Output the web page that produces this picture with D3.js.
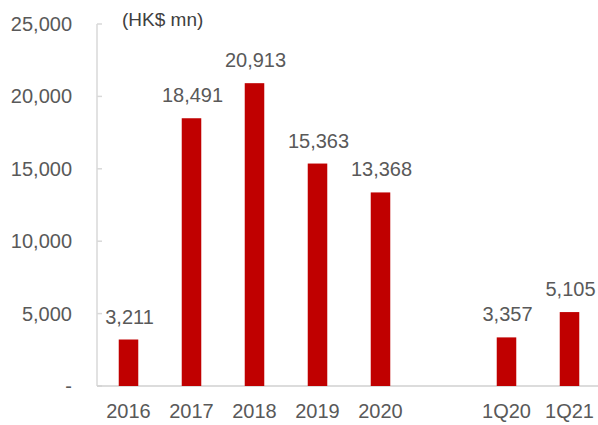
<!DOCTYPE html>
<html>
<head>
<meta charset="utf-8">
<script src="https://cdn.jsdelivr.net/npm/d3@7"></script>
<style>
  body { margin: 0; background: #fff; }
  svg text { font-family: "Liberation Sans", Arial, sans-serif; }
</style>
</head>
<body>
<div id="chart"></div>
<script>
(function(){
  const categories = ["2016", "2017", "2018", "2019", "2020", "", "1Q20", "1Q21"];
  const values = [3211, 18491, 20913, 15363, 13368, null, 3357, 5105];
  const yTicks = [0, 5000, 10000, 15000, 20000, 25000];
  const unitLabel = "(HK$ mn)";

  const width = 598;
  const height = 425;
  const left = 97, right = 598, top = 24, bottom = 386;

  const svg = d3.select("#chart")
    .append("svg")
    .attr("width", width)
    .attr("height", height);

  const x = d3.scaleBand()
    .domain(categories)
    .range([left, right + 3])
    .paddingInner(0.69)
    .paddingOuter(0.345);

  const y = d3.scaleLinear()
    .domain([0, 25000])
    .range([bottom, top]);

  // y axis line + ticks
  svg.append("line")
    .attr("x1", left).attr("x2", left)
    .attr("y1", y(25000)).attr("y2", y(0))
    .attr("stroke", "#d9d9d9")
    .attr("stroke-width", 1.5);

  svg.selectAll(".ytick")
    .data(yTicks)
    .enter().append("line")
    .attr("class", "ytick")
    .attr("x1", left).attr("x2", left + 5)
    .attr("y1", d => y(d)).attr("y2", d => y(d))
    .attr("stroke", "#d9d9d9")
    .attr("stroke-width", 1.5);

  svg.selectAll(".ylabel")
    .data(yTicks)
    .enter().append("text")
    .attr("class", "ylabel")
    .attr("x", 72)
    .attr("y", d => y(d) + 7)
    .attr("text-anchor", "end")
    .attr("fill", "#595959")
    .style("font-size", "20px")
    .text(d => d === 0 ? "-" : d3.format(",")(d));

  // baseline
  svg.append("line")
    .attr("x1", left).attr("x2", right)
    .attr("y1", y(0)).attr("y2", y(0))
    .attr("stroke", "#d0d0d0")
    .attr("stroke-width", 1.5);

  const data = categories.map((c, i) => ({ cat: c, value: values[i] }))
    .filter(d => d.value !== null);

  svg.selectAll(".bar")
    .data(data)
    .enter().append("rect")
    .attr("class", "bar")
    .attr("x", d => x(d.cat))
    .attr("width", x.bandwidth())
    .attr("y", d => y(d.value))
    .attr("height", d => y(0) - y(d.value))
    .attr("fill", "#c00000");

  svg.selectAll(".vlabel")
    .data(data)
    .enter().append("text")
    .attr("class", "vlabel")
    .attr("x", d => x(d.cat) + x.bandwidth() / 2 + 1)
    .attr("y", d => y(d.value) - 16)
    .attr("text-anchor", "middle")
    .attr("fill", "#595959")
    .style("font-size", "20px")
    .text(d => d3.format(",")(d.value));

  svg.selectAll(".xlabel")
    .data(data)
    .enter().append("text")
    .attr("class", "xlabel")
    .attr("x", d => x(d.cat) + x.bandwidth() / 2)
    .attr("y", 418)
    .attr("text-anchor", "middle")
    .attr("fill", "#595959")
    .style("font-size", "20px")
    .text(d => d.cat);

  svg.append("text")
    .attr("x", 122)
    .attr("y", 26)
    .attr("fill", "#404040")
    .style("font-size", "19px")
    .text(unitLabel);
})();
</script>
</body>
</html>
